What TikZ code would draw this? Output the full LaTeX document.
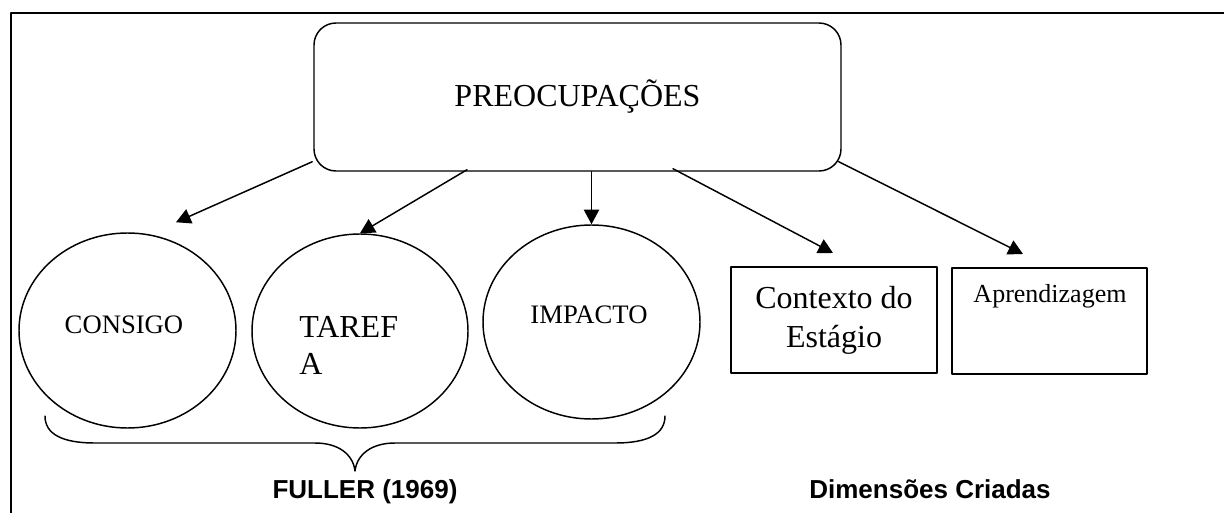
\documentclass[tikz,border=0pt]{standalone}
\usepackage{fontspec}
\setmainfont{Liberation Serif}
\newfontfamily\arialfont{Liberation Sans}
\usetikzlibrary{shapes.geometric,arrows.meta,calc}

\begin{document}
\begin{tikzpicture}[x=0.75pt, y=-0.75pt, line cap=round, line join=round,
    seta/.style={line width=1.1pt, -{Triangle[length=11pt, width=11.5pt]}},
    bolha/.style={draw, ellipse, line width=1.1pt, inner sep=0pt},
    caixa/.style={draw, rectangle, line width=1.5pt, inner sep=0pt},
    rotulo/.style={inner sep=0pt, font=\arialfont\bfseries\fontsize{19.5}{23}\selectfont}]

    \useasboundingbox (0,0) rectangle (1224,513);

    % moldura
    \draw[line width=1.6pt] (11,520) -- (11,13) -- (1230,13);

    % caixa de cima
    \node[draw, rectangle, rounded corners=16.5pt, line width=1.1pt,
          minimum width=395.25pt, minimum height=111pt, inner sep=0pt,
          font=\fontsize{24}{28}\selectfont] (preoc) at (577.5,97) {PREOCUPAÇÕES};

    % Fuller
    \node[bolha, minimum width=162.75pt, minimum height=146.25pt] (consigo) at (127.5,330.5) {};
    \node[bolha, minimum width=162pt, minimum height=145.5pt] (tarefa) at (360,331) {};
    \node[bolha, minimum width=162.75pt, minimum height=145.5pt] (impacto) at (591.5,322) {};

    \node[anchor=base, inner sep=0pt, font=\fontsize{20}{24}\selectfont] (consigo-t) at (124,333) {CONSIGO};
    \node[anchor=base west, inner sep=0pt, align=left, font=\fontsize{24}{27.75}\selectfont] (tarefa-t) at (299,374) {TAREF\\A};
    \node[anchor=base, inner sep=0pt, font=\fontsize{20}{24}\selectfont] (impacto-t) at (589,323) {IMPACTO};

    % dimensoes criadas
    \node[caixa, minimum width=154.5pt, minimum height=79.5pt, align=center,
          font=\fontsize{24}{29.25}\selectfont] (contexto) at (834,320) {Contexto do\\Estágio};
    \node[caixa, minimum width=146.25pt, minimum height=79.5pt] (aprend) at (1049.5,321) {};
    \node[anchor=base, inner sep=0pt, font=\fontsize{19.5}{23}\selectfont] (aprend-t) at (1050,302) {Aprendizagem};

    % setas
    \draw[seta] ($(preoc.south west)+(-1,-10)$) -- ($(consigo.north)+(48.5,-10)$);
    \draw[seta] ($(preoc.south)+(-110.5,-2)$) -- (tarefa.north);
    \draw[seta] (impacto.north |- preoc.south) -- (impacto.north);
    \draw[seta] ($(preoc.south)+(95.5,-3)$) -- ($(contexto.north)+(-1,-13)$);
    \draw[seta] ($(preoc.south east)+(-3,-10)$) -- ($(aprend.north)+(-26.5,-13)$);

    % chaveta
    \draw[line width=1.1pt] (45,416) .. controls (45,434) and (62,443) .. (95,443)
        -- (315,443) .. controls (338,443) and (353,454) .. (355,471)
        .. controls (357,454) and (372,443) .. (395,443)
        -- (615,443) .. controls (648,443) and (665,434) .. (665,416);

    \node[rotulo, anchor=base] (fuller) at (365,498) {FULLER (1969)};
    \node[rotulo, anchor=base] (criadas) at (930,498) {Dimensões Criadas};

\end{tikzpicture}
\end{document}
